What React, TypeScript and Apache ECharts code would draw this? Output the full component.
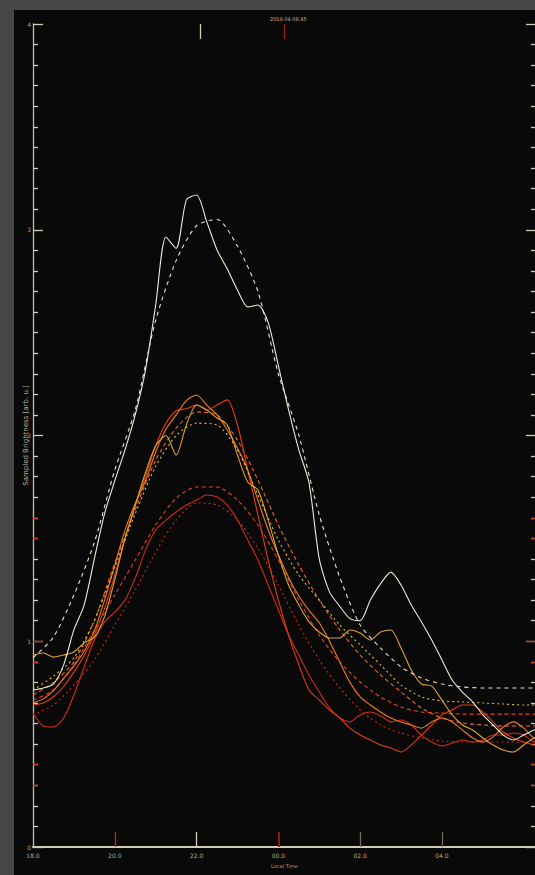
import { useEffect, useRef } from "react";
import * as echarts from "echarts";

const TITLE = "2019.04.08.45";
const X_NAME = "Local Time";
const Y_NAME = "Sampled Brightness [arb. u.]";

// axis annotations
const xLabelHours = [18, 20, 22, 24, 26, 28];
const redYTicks = [0.3, 0.4, 0.9, 1.5, 1.6];
const redYMajor = [1];

// sample times (hours, continuing past midnight)
const hoursFine = [
  18, 18.25, 18.5, 18.75, 19, 19.25, 19.5, 19.75, 20, 20.25, 20.5, 20.75, 21, 21.25, 21.5, 21.75,
  22, 22.25, 22.5, 22.75, 23, 23.25, 23.5, 23.75, 24, 24.25, 24.5, 24.75, 25, 25.25, 25.5, 25.75,
  26, 26.25, 26.5, 26.75, 27, 27.25, 27.5, 27.75, 28, 28.25, 28.5, 28.75, 29, 29.25, 29.5, 29.75,
  30, 30.25, 30.5,
];
const hoursCoarse = [
  18, 18.5, 19, 19.5, 20, 20.5, 21, 21.5, 22, 22.5, 23, 23.5, 24, 24.5, 25, 25.5, 26, 26.5, 27,
  27.5, 28, 28.5, 29, 29.5, 30, 30.5,
];

// measured curves (fine sampling)
const whiteSolid = [
  0.763, 0.773, 0.792, 0.885, 1.055, 1.176, 1.4, 1.62, 1.78, 1.93, 2.1, 2.318, 2.634, 2.965, 2.91,
  3.145, 3.169, 3.038, 2.902, 2.81, 2.707, 2.625, 2.634, 2.55, 2.34, 2.124, 1.93, 1.77, 1.4, 1.24,
  1.17, 1.11, 1.1, 1.2, 1.28, 1.336, 1.273, 1.176, 1.094, 1.006, 0.909, 0.812, 0.753, 0.705, 0.642,
  0.593, 0.544, 0.52, 0.544, 0.569, 0.578,
];
const yellowSolid = [
  0.933, 0.943, 0.923, 0.933, 0.948, 0.992, 1.02, 1.12, 1.3, 1.5, 1.66, 1.82, 1.95, 2.0, 1.905,
  2.051, 2.148, 2.124, 2.085, 2.051, 1.905, 1.774, 1.735, 1.589, 1.419, 1.273, 1.176, 1.094, 1.045,
  1.016, 1.016, 1.055, 1.04, 1.006, 1.045, 1.055, 0.967, 0.86, 0.792, 0.782, 0.714, 0.642, 0.593,
  0.569, 0.53, 0.496, 0.471, 0.462, 0.496, 0.53, 0.544,
];
const orangeSolid = [
  0.7, 0.72, 0.76, 0.82, 0.88, 0.95, 1.05, 1.2, 1.37, 1.54, 1.67, 1.78, 1.92, 2.03, 2.1, 2.17, 2.197,
  2.148, 2.1, 2.027, 1.939, 1.832, 1.686, 1.541, 1.42, 1.31, 1.22, 1.15, 1.09, 1.0, 0.9, 0.8, 0.73,
  0.69, 0.656, 0.627, 0.608, 0.593, 0.578, 0.608, 0.627, 0.608, 0.569, 0.53, 0.51, 0.535, 0.583,
  0.608, 0.578, 0.53, 0.52,
];
const redSolid = [
  0.69, 0.7, 0.73, 0.78, 0.85, 0.93, 1.03, 1.16, 1.32, 1.5, 1.66, 1.8, 1.95, 2.06, 2.12, 2.13, 2.148,
  2.124, 2.148, 2.173, 2.051, 1.832, 1.614, 1.395, 1.2, 1.03, 0.885, 0.763, 0.714, 0.666, 0.627,
  0.578, 0.544, 0.52, 0.496, 0.481, 0.462, 0.496, 0.544, 0.593, 0.642, 0.666, 0.69, 0.69, 0.656,
  0.608, 0.559, 0.53, 0.51, 0.496, 0.491,
];
const redLowSolid = [
  0.651, 0.588, 0.583, 0.627, 0.739, 0.875, 1.006, 1.094, 1.142, 1.2, 1.307, 1.443, 1.541, 1.589,
  1.628, 1.662, 1.686, 1.711, 1.701, 1.662, 1.589, 1.492, 1.395, 1.273, 1.152, 1.03, 0.933, 0.836,
  0.753, 0.676, 0.627, 0.608, 0.642, 0.656, 0.637, 0.608, 0.617, 0.593, 0.544, 0.51, 0.491, 0.505,
  0.52, 0.51, 0.52, 0.544, 0.544, 0.554, 0.544, 0.51, 0.496,
];

// model curves (coarse sampling)
const whiteDashed = [
  0.92, 1.02, 1.225, 1.48, 1.832, 2.124, 2.56, 2.85, 3.02, 3.05, 2.92, 2.7, 2.3, 2.002, 1.614, 1.312,
  1.079, 0.967, 0.875, 0.821, 0.792, 0.778, 0.773, 0.773, 0.773, 0.773,
];
const yellowDotted = [
  0.763, 0.83, 0.92, 1.1, 1.36, 1.62, 1.85, 2.0, 2.06, 2.051, 1.93, 1.711, 1.492, 1.322, 1.2, 1.079,
  0.982, 0.885, 0.787, 0.729, 0.71, 0.705, 0.7, 0.695, 0.69, 0.69,
];
const orangeDashed = [
  0.739, 0.8, 0.9, 1.1, 1.38, 1.64, 1.88, 2.036, 2.114, 2.1, 1.978, 1.784, 1.565, 1.371, 1.2, 1.055,
  0.933, 0.836, 0.753, 0.676, 0.627, 0.603, 0.593, 0.588, 0.588, 0.588,
];
const redDashed = [
  0.714, 0.763, 0.885, 1.055, 1.225, 1.395, 1.565, 1.696, 1.75, 1.75, 1.686, 1.565, 1.395, 1.2, 1.03,
  0.899, 0.802, 0.729, 0.68, 0.656, 0.651, 0.646, 0.646, 0.646, 0.646, 0.646,
];
const redDotted = [
  0.642, 0.69, 0.787, 0.909, 1.079, 1.249, 1.434, 1.589, 1.672, 1.662, 1.589, 1.453, 1.273, 1.079,
  0.909, 0.773, 0.666, 0.593, 0.554, 0.53, 0.515, 0.51, 0.51, 0.51, 0.51, 0.51,
];

type Curve = {
  name: string;
  hours: number[];
  values: number[];
  color: string;
  dash: "solid" | number[];
};

const curves: Curve[] = [
  { name: "redDotted", hours: hoursCoarse, values: redDotted, color: "#cc2a0c", dash: [2, 3] },
  { name: "redDashed", hours: hoursCoarse, values: redDashed, color: "#e4441a", dash: [4, 3] },
  { name: "orangeDashed", hours: hoursCoarse, values: orangeDashed, color: "#f0661e", dash: [4, 3] },
  { name: "redLowSolid", hours: hoursFine, values: redLowSolid, color: "#d42c10", dash: "solid" },
  { name: "redSolid", hours: hoursFine, values: redSolid, color: "#e83a14", dash: "solid" },
  { name: "orangeSolid", hours: hoursFine, values: orangeSolid, color: "#f07a20", dash: "solid" },
  { name: "yellowDotted", hours: hoursCoarse, values: yellowDotted, color: "#e8c030", dash: [2, 3] },
  { name: "yellowSolid", hours: hoursFine, values: yellowSolid, color: "#dca42a", dash: "solid" },
  { name: "whiteDashed", hours: hoursCoarse, values: whiteDashed, color: "#e6e4d0", dash: [4, 4] },
  { name: "whiteSolid", hours: hoursFine, values: whiteSolid, color: "#ecead6", dash: "solid" },
];

const FONT = "DejaVu Sans";
const BEIGE = "#cfcdb6";

const fmtHour = (v: number) => {
  const h = ((v % 24) + 24) % 24;
  return (h < 10 ? "0" : "") + h.toFixed(1);
};

function tickAxisX(values: number[], color: string, position: "top" | "bottom", width = 1.3) {
  return {
    type: "value",
    min: 18,
    max: 30.3,
    interval: 2,
    position,
    axisLine: { show: false, onZero: false },
    axisLabel: { show: false },
    splitLine: { show: false },
    axisTick: {
      show: true,
      inside: true,
      length: 15,
      customValues: values,
      lineStyle: { color, width },
    },
  };
}

function tickAxisY(values: number[], color: string, position: "left" | "right", length: number) {
  return {
    type: "value",
    min: 0,
    max: 4,
    interval: 1,
    position,
    axisLine: { show: false, onZero: false },
    axisLabel: { show: false },
    splitLine: { show: false },
    axisTick: {
      show: true,
      inside: true,
      length,
      customValues: values,
      lineStyle: { color, width: 1.3 },
    },
  };
}

function frameAxisY(position: "left" | "right", withText: boolean) {
  return {
    type: "value",
    min: 0,
    max: 4,
    interval: 1,
    position,
    axisLine: { show: true, onZero: false, lineStyle: { color: "#bdbca6", width: 1.3 } },
    axisTick: { show: true, inside: true, length: 10, lineStyle: { color: BEIGE, width: 1.3 } },
    minorTick: { show: true, splitNumber: 10, length: 5, lineStyle: { color: BEIGE, width: 1.3 } },
    axisLabel: {
      show: withText,
      fontSize: 6,
      fontFamily: FONT,
      color: "#aaa892",
      margin: 2,
    },
    splitLine: { show: false },
    minorSplitLine: { show: false },
    ...(withText
      ? {
          name: Y_NAME,
          nameLocation: "middle",
          nameGap: 4,
          nameRotate: 90,
          nameMoveOverlap: false,
          nameTextStyle: { fontSize: 7, fontFamily: FONT, color: "#b8b49c" },
        }
      : {}),
  };
}

export default function App() {
  const ref = useRef<HTMLDivElement>(null);

  useEffect(() => {
    if (!ref.current) return;
    const chart = echarts.init(ref.current, undefined, { renderer: "svg" });
    chart.setOption({
      animation: false,
      backgroundColor: "#090909",
      title: {
        text: TITLE,
        left: 251,
        top: 1,
        textStyle: { fontSize: 5, fontWeight: "normal", fontFamily: FONT, color: "#c8b8a0" },
      },
      grid: { left: 19, right: 4, top: 14, bottom: 28, containLabel: false, outerBoundsMode: "none" },
      xAxis: [
        {
          type: "value",
          min: 18,
          max: 30.3,
          interval: 2,
          position: "bottom",
          axisLine: { show: true, onZero: false, lineStyle: { color: BEIGE, width: 2 } },
          axisTick: {
            show: true,
            inside: true,
            length: 15,
            customValues: [22],
            lineStyle: { color: BEIGE, width: 1.3 },
          },
          axisLabel: {
            customValues: xLabelHours,
            formatter: fmtHour,
            fontSize: 6,
            fontFamily: FONT,
            color: "#b8a890",
            margin: 5,
          },
          splitLine: { show: false },
          name: X_NAME,
          nameLocation: "middle",
          nameGap: 16,
          nameMoveOverlap: false,
          nameTextStyle: { fontSize: 5, fontFamily: FONT, color: "#c89078" },
        },
        tickAxisX([20], "#b82a14", "bottom"),
        tickAxisX([24], "#8c1a0c", "bottom", 2),
        tickAxisX([26, 28], "#6e6c5e", "bottom"),
        tickAxisX([22.1], BEIGE, "top"),
        tickAxisX([24.15], "#a02010", "top"),
      ],
      yAxis: [
        frameAxisY("left", true),
        tickAxisY(redYTicks, "#d83a1a", "left", 5),
        tickAxisY(redYMajor, "#c83218", "left", 10),
        frameAxisY("right", false),
        tickAxisY(redYTicks, "#d83a1a", "right", 5),
        tickAxisY(redYMajor, "#c83218", "right", 10),
      ],
      series: curves.map((c) => ({
        name: c.name,
        type: "line",
        xAxisIndex: 0,
        yAxisIndex: 0,
        symbol: "none",
        showSymbol: false,
        smooth: 0.25,
        clip: true,
        lineStyle: { color: c.color, width: 1.1, type: c.dash },
        data: c.hours.map((h, i) => [h, c.values[i]]),
      })),
    });
    return () => chart.dispose();
  }, []);

  return (
    <div
      style={{
        position: "fixed",
        left: 0,
        top: 0,
        width: 535,
        height: 875,
        overflow: "hidden",
        background: "#474747",
      }}
    >
      <div
        ref={ref}
        style={{ position: "absolute", left: 14, top: 10, width: 526, height: 865 }}
      />
    </div>
  );
}
